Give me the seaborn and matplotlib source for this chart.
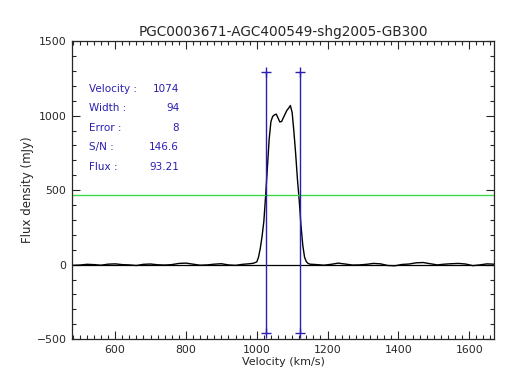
import numpy as np
import pandas as pd
import matplotlib
matplotlib.use("Agg")
import matplotlib.pyplot as plt
import seaborn as sns
from matplotlib.ticker import MultipleLocator

# spectrum values (km/s, mJy)
vel_left = [480, 500, 520, 540, 560, 580, 600, 620, 640, 660, 680, 700, 720, 740,
            760, 780, 800, 820, 840, 860, 880, 900, 920, 940, 960, 980, 990]
flux_left = [-5, -3, 2, 0, -4, 3, 5, 0, -2, -6, 2, 4, -1, -3,
             0, 8, 10, 3, -4, -2, 3, 6, -2, -5, 2, 6, 9]
vel_line = [1000, 1005, 1010, 1015, 1020, 1025, 1030, 1035, 1040, 1045, 1050, 1055,
            1060, 1065, 1070, 1075, 1080, 1085, 1090, 1095, 1100, 1105, 1110, 1115,
            1120, 1125, 1130, 1135, 1140, 1145]
flux_line = [18, 50, 110, 190, 290, 460, 650, 840, 960, 995, 1005, 1010,
             985, 958, 960, 985, 1010, 1035, 1050, 1068, 1020, 890, 740, 570,
             430, 260, 130, 50, 20, 8]
vel_right = [1150, 1170, 1190, 1210, 1230, 1250, 1270, 1290, 1310, 1330, 1350, 1370,
             1390, 1410, 1430, 1450, 1470, 1490, 1510, 1530, 1550, 1570, 1590, 1610,
             1630, 1650, 1670]
flux_right = [3, 0, -4, 2, 10, 4, -3, -2, 2, 8, 5, -6, -8, 1, 4, 12, 14, 6,
              -2, 3, 6, 8, 4, -7, -2, 5, 3]

v_edges = [1027, 1121]
edge_lo, edge_hi = -460, 1290
flux_level = 466

labels = ["Velocity :", "Width :", "Error :", "S/N :", "Flux :"]
values = ["1074", "94", "8", "146.6", "93.21"]

df = pd.DataFrame({"vel": vel_left + vel_line + vel_right,
                   "flux": flux_left + flux_line + flux_right})

sns.set_style("ticks")
plt.rcParams["font.family"] = ["DejaVu Sans"]

fig = plt.figure(figsize=(5.14, 3.88), dpi=100)
ax = fig.add_axes([0.140, 0.126, 0.821, 0.768])

sns.lineplot(data=df, x="vel", y="flux", color="black", lw=1.0, ax=ax)
ax.axhline(0, color="black", lw=0.9)
ax.axhline(flux_level, color="#3ad84a", lw=1.0)
blue = "#2a1fb0"
for v in v_edges:
    ax.plot([v, v], [edge_lo, edge_hi], color=blue, lw=1.0)
    ax.plot([v, v], [edge_lo, edge_hi], ls="none", marker="+", ms=6.5, mew=1.0, color=blue)

for i, (lab, val) in enumerate(zip(labels, values)):
    y = 0.839 - i * 0.065
    ax.text(0.040, y, lab, transform=ax.transAxes, color=blue, fontsize=7.5, va="center")
    ax.text(0.254, y, val, transform=ax.transAxes, color=blue, fontsize=7.5, va="center", ha="right")

ax.set_xlim(478, 1670)
ax.set_ylim(-500, 1500)
ax.xaxis.set_major_locator(MultipleLocator(200))
ax.xaxis.set_minor_locator(MultipleLocator(20))
ax.yaxis.set_major_locator(MultipleLocator(500))
ax.yaxis.set_minor_locator(MultipleLocator(100))
ax.tick_params(which="both", direction="in", top=True, right=True, labelsize=7.8, width=0.8, pad=4)
ax.tick_params(which="major", length=5.5)
ax.tick_params(which="minor", length=2.8)
for s in ax.spines.values():
    s.set_linewidth(0.9)

ax.set_xlabel("Velocity (km/s)", fontsize=8, labelpad=2)
ax.set_ylabel("Flux density (mJy)", fontsize=8.5, labelpad=2)
ax.set_title("PGC0003671-AGC400549-shg2005-GB300", fontsize=9.8, pad=4)

fig.savefig("out.png", dpi=100)
